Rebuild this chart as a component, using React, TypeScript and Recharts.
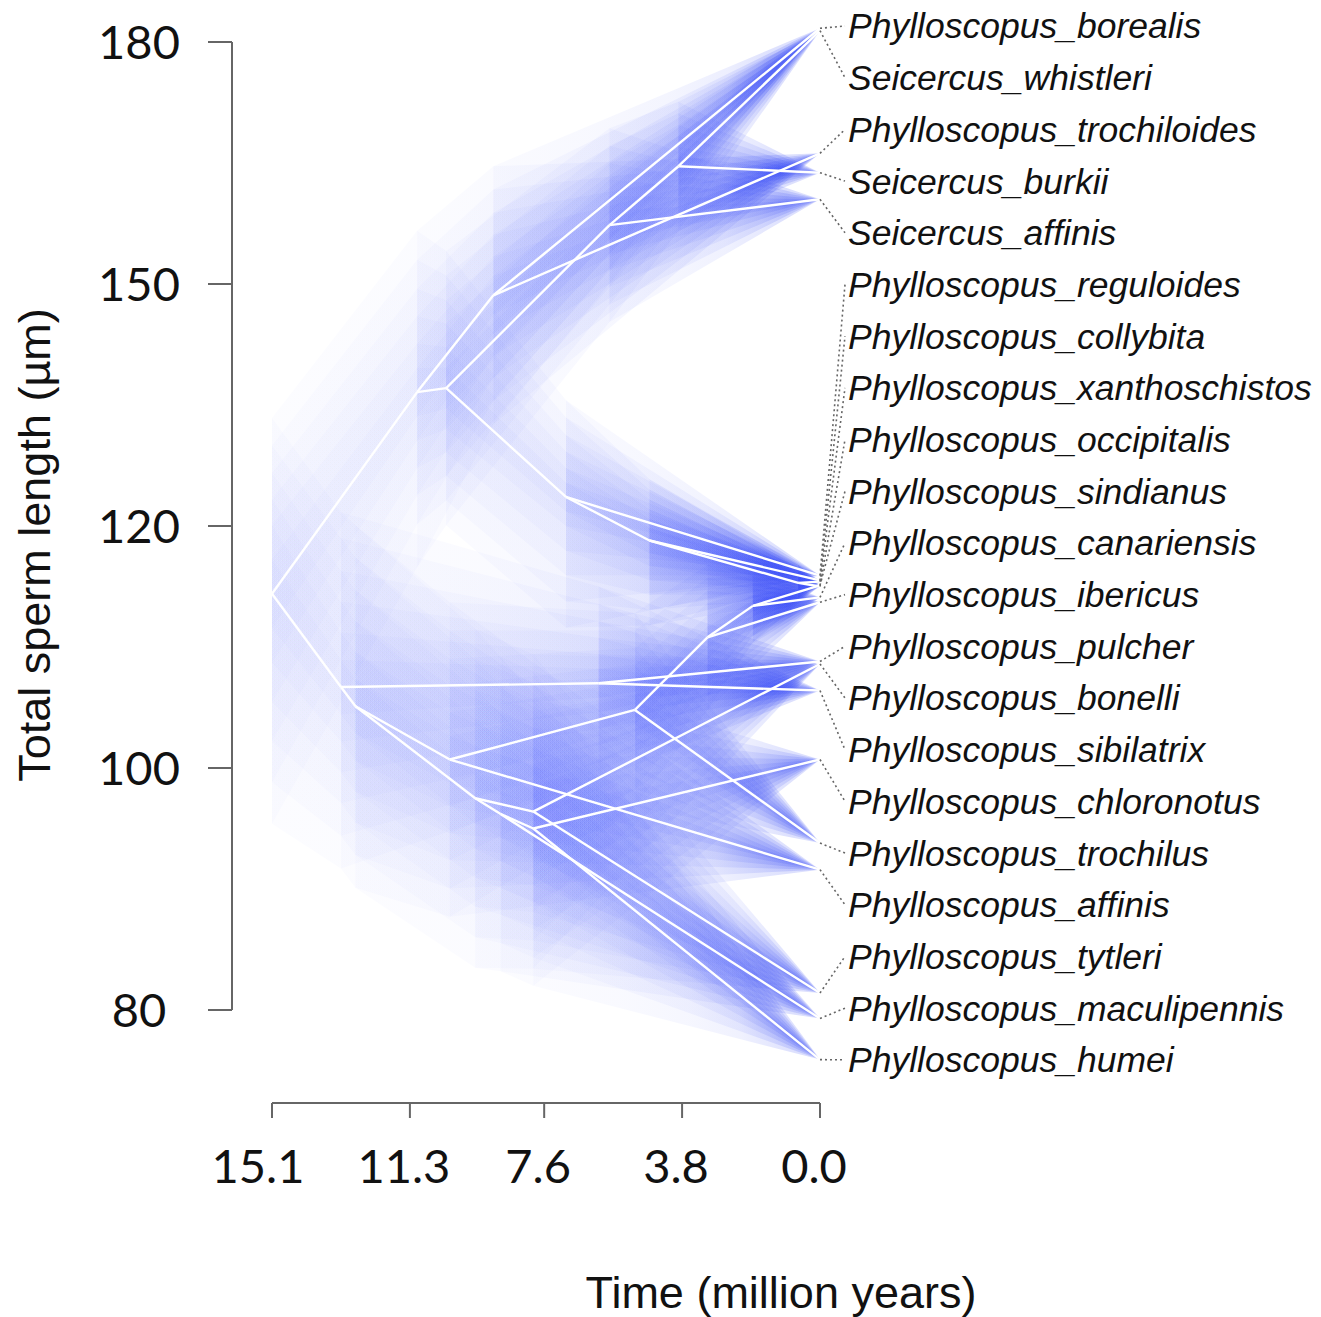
import { ComposedChart, XAxis, YAxis, Area, Line, Scatter, ReferenceLine } from "recharts";

// tips, top to bottom as labelled
const speciesNames = [
  "Phylloscopus_borealis",
  "Seicercus_whistleri",
  "Phylloscopus_trochiloides",
  "Seicercus_burkii",
  "Seicercus_affinis",
  "Phylloscopus_reguloides",
  "Phylloscopus_collybita",
  "Phylloscopus_xanthoschistos",
  "Phylloscopus_occipitalis",
  "Phylloscopus_sindianus",
  "Phylloscopus_canariensis",
  "Phylloscopus_ibericus",
  "Phylloscopus_pulcher",
  "Phylloscopus_bonelli",
  "Phylloscopus_sibilatrix",
  "Phylloscopus_chloronotus",
  "Phylloscopus_trochilus",
  "Phylloscopus_affinis",
  "Phylloscopus_tytleri",
  "Phylloscopus_maculipennis",
  "Phylloscopus_humei",
];
const tipSperm = [
  181.7, 181.4, 166.2, 163.8, 160.5, 115.9, 115.5, 115.4, 115.0, 115.1, 114.1, 113.7,
  108.8, 108.6, 106.4, 100.7, 93.8, 91.6, 81.4, 79.3, 75.9,
];

// internal nodes: age (million years), reconstructed length, CI half-width
const nodeNames = ["root", "A", "B", "C", "D", "E", "F", "G", "G2", "J", "K", "L", "M", "N", "H", "I", "O", "P", "R", "Q"];
const nodeAge = [15.1, 11.1, 9.0, 10.3, 7.0, 5.8, 3.9, 4.7, 0.6, 13.2, 12.8, 6.1, 10.2, 5.1, 3.1, 1.85, 9.5, 7.9, 8.8, 7.9];
const nodeSperm = [114.4, 136.6, 148.6, 137.1, 123.6, 157.3, 164.6, 118.8, 115.3, 106.7, 105.1, 107.0, 100.7, 104.8, 110.8, 113.4, 97.5, 96.4, 96.2, 95.0];
const nodeCI = [19, 20, 16, 17, 12, 12, 8, 7, 1.5, 15, 15, 8, 13, 8, 6, 3, 14, 13, 13, 13];

const branches: [string, string][] = [
  ["root", "A"], ["root", "J"],
  ["A", "B"], ["A", "C"],
  ["B", "Phylloscopus_borealis"], ["B", "Phylloscopus_trochiloides"],
  ["C", "E"], ["C", "D"],
  ["E", "F"], ["E", "Seicercus_affinis"],
  ["F", "Seicercus_whistleri"], ["F", "Seicercus_burkii"],
  ["D", "Phylloscopus_reguloides"], ["D", "G"],
  ["G", "Phylloscopus_collybita"], ["G", "G2"],
  ["G2", "Phylloscopus_xanthoschistos"], ["G2", "Phylloscopus_occipitalis"],
  ["J", "L"], ["J", "K"],
  ["L", "Phylloscopus_pulcher"], ["L", "Phylloscopus_sibilatrix"],
  ["K", "M"], ["K", "O"],
  ["M", "N"], ["M", "Phylloscopus_affinis"],
  ["N", "H"], ["N", "Phylloscopus_trochilus"],
  ["H", "I"], ["H", "Phylloscopus_ibericus"],
  ["I", "Phylloscopus_sindianus"], ["I", "Phylloscopus_canariensis"],
  ["O", "P"], ["O", "R"],
  ["P", "Phylloscopus_bonelli"], ["P", "Phylloscopus_tytleri"],
  ["R", "Phylloscopus_maculipennis"], ["R", "Q"],
  ["Q", "Phylloscopus_chloronotus"], ["Q", "Phylloscopus_humei"],
];

const yTickLabels = [80, 100, 120, 150, 180];
const xTicks = [15.1, 11.3, 7.6, 3.8, 0];

// the printed axis is evenly spaced between these labels, so map piecewise
const toPos = (v: number) => (v <= 120 ? (v - 80) / 20 : 2 + (v - 120) / 30);

const W = 1321;
const H = 1317;
const PLOT_RIGHT = 845;
const PLOT_LEFT = 232;
const PLOT_TOP = 12;
const PLOT_BOTTOM = 1103;
const X_MAX = 16.202; // left edge (axis sits 40px left of the root)
const X_MIN = -0.689; // right edge, where the labels start
const Y_MIN = -0.3843;
const Y_MAX = 4.124;
const LABEL_TOP = 4.066;
const LABEL_STEP = 0.2136;
const YAXIS_W = 100;
const XAXIS_H = 80;

const BLUE = "#3347f5";
const BAND_LEVELS = [1, 0.82, 0.64, 0.47, 0.3, 0.15];
const STOPS = [0, 0.3, 0.55, 0.72, 0.84, 0.92, 0.97, 1];
const DENSITY = 0.0135;
const OMAX = 0.17;

function info(name: string) {
  const i = nodeNames.indexOf(name);
  if (i >= 0) return { t: nodeAge[i], v: nodeSperm[i], ci: nodeCI[i] };
  return { t: 0, v: tipSperm[speciesNames.indexOf(name)], ci: 0 };
}

const halfW = (v: number, ci: number) => (toPos(v + ci) - toPos(v - ci)) / 2;

const edges = branches.map(([p, c]) => ({ p: info(p), c: info(c) }));

const labelFont = "Liberation Sans, Arial, sans-serif";
const tickFont = "Lato, Open Sans, sans-serif";

function YTick({ y, payload }: any) {
  const lab = yTickLabels.find((v) => Math.abs(toPos(v) - payload.value) < 1e-6);
  return (
    <text x={139} y={y} dy="0.36em" textAnchor="middle" fontSize={47} fontFamily={tickFont} fill="#111">
      {lab}
    </text>
  );
}

function XTick({ x, payload }: any) {
  const v = Number(payload.value);
  return (
    <text x={x - (v > 15 ? 14 : 6)} y={1183} textAnchor="middle" fontSize={47} fontFamily={tickFont} fill="#111">
      {v.toFixed(1)}
    </text>
  );
}

export default function App() {
  return (
    <div style={{ position: "absolute", left: 0, top: 0, width: W, height: H, background: "#fff" }}>
      <ComposedChart
        width={W}
        height={H}
        margin={{ top: PLOT_TOP, right: W - PLOT_RIGHT, left: PLOT_LEFT - YAXIS_W, bottom: H - PLOT_BOTTOM - XAXIS_H }}
      >
        <defs>
          {edges.map((e, i) => {
            const wp = halfW(e.p.v, e.p.ci);
            const wc = halfW(e.c.v, e.c.ci);
            return (
              <linearGradient key={i} id={`br${i}`} x1="0" y1="0" x2="1" y2="0">
                {STOPS.map((s) => (
                  <stop
                    key={s}
                    offset={s}
                    stopColor={BLUE}
                    stopOpacity={Math.min(OMAX, DENSITY / Math.max(wp * (1 - s) + wc * s, 1e-3))}
                  />
                ))}
              </linearGradient>
            );
          })}
        </defs>
        <XAxis
          type="number"
          dataKey="t"
          domain={[X_MIN, X_MAX]}
          reversed
          ticks={xTicks}
          interval={0}
          height={XAXIS_H}
          axisLine={false}
          tickSize={15}
          tickLine={{ stroke: "#666", strokeWidth: 2 }}
          tick={<XTick />}
          label={{
            content: () => (
              <text x={781} y={1308} textAnchor="middle" fontSize={45} fontFamily={labelFont} fill="#111">
                Time (million years)
              </text>
            ),
          }}
        />
        <YAxis
          type="number"
          domain={[Y_MIN, Y_MAX]}
          ticks={yTickLabels.map(toPos)}
          interval={0}
          width={YAXIS_W}
          axisLine={false}
          tickSize={24}
          tickLine={{ stroke: "#666", strokeWidth: 2 }}
          tick={<YTick />}
          label={{
            content: () => (
              <text
                x={50}
                y={545}
                transform="rotate(-90 50 545)"
                textAnchor="middle"
                fontSize={45}
                fontFamily={labelFont}
                fill="#111"
              >
                Total sperm length (µm)
              </text>
            ),
          }}
        />
        <ReferenceLine
          segment={[{ x: X_MAX, y: toPos(80) }, { x: X_MAX, y: toPos(180) }]}
          stroke="#666"
          strokeWidth={2}
          ifOverflow="visible"
        />
        <ReferenceLine
          segment={[{ x: xTicks[0], y: Y_MIN }, { x: 0, y: Y_MIN }]}
          stroke="#666"
          strokeWidth={2}
          ifOverflow="visible"
        />

        {edges.flatMap((e, i) =>
          BAND_LEVELS.map((f) => (
            <Area
              key={`a${i}-${f}`}
              type="linear"
              data={[
                { t: e.p.t, band: [toPos(e.p.v - f * e.p.ci), toPos(e.p.v + f * e.p.ci)] },
                { t: e.c.t, band: [toPos(e.c.v - f * e.c.ci), toPos(e.c.v + f * e.c.ci)] },
              ]}
              dataKey="band"
              stroke="none"
              fill={`url(#br${i})`}
              fillOpacity={1}
              dot={false}
              activeDot={false}
              isAnimationActive={false}
            />
          ))
        )}

        {edges.map((e, i) => (
          <Line
            key={`l${i}`}
            type="linear"
            data={[
              { t: e.p.t, y: toPos(e.p.v) },
              { t: e.c.t, y: toPos(e.c.v) },
            ]}
            dataKey="y"
            stroke="#ffffff"
            strokeWidth={2.4}
            dot={false}
            activeDot={false}
            isAnimationActive={false}
          />
        ))}

        {speciesNames.map((n, i) => (
          <Line
            key={`d${i}`}
            type="linear"
            data={[
              { t: 0, y: toPos(tipSperm[i]) },
              { t: X_MIN, y: LABEL_TOP - i * LABEL_STEP },
            ]}
            dataKey="y"
            stroke="#666"
            strokeWidth={1.6}
            strokeDasharray="2 3"
            dot={false}
            activeDot={false}
            isAnimationActive={false}
          />
        ))}

        <Scatter
          data={speciesNames.map((n, i) => ({ t: X_MIN, y: LABEL_TOP - i * LABEL_STEP, name: n }))}
          dataKey="y"
          isAnimationActive={false}
          shape={(p: any) => (
            <text
              x={p.cx + 3}
              y={p.cy}
              dy="0.35em"
              fontSize={35.5}
              fontStyle="italic"
              fontFamily={labelFont}
              fill="#111"
            >
              {p.payload.name}
            </text>
          )}
        />
      </ComposedChart>
    </div>
  );
}
